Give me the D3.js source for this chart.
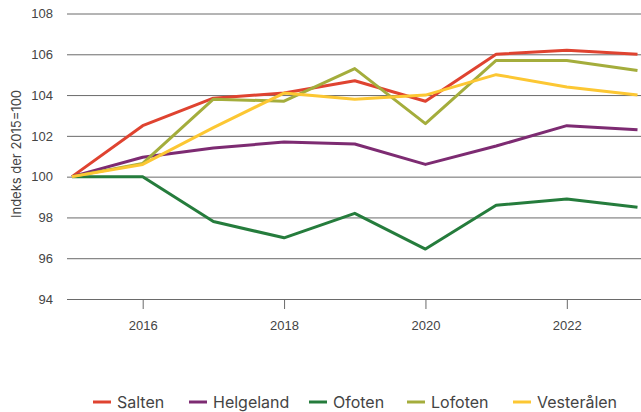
<!DOCTYPE html>
<html>
<head>
<meta charset="utf-8">
<script src="https://cdn.jsdelivr.net/npm/d3@7"></script>
<style>
  body { margin: 0; background: #fff; }
  svg { font-family: Inter, "Noto Sans", sans-serif; }
</style>
</head>
<body>
<svg id="chart"></svg>
<script>
const years = [2015, 2016, 2017, 2018, 2019, 2020, 2021, 2022, 2023];
const yTicks = [94, 96, 98, 100, 102, 104, 106, 108];
const xTicks = [2016, 2018, 2020, 2022];
const names = ['Salten', 'Helgeland', 'Ofoten', 'Lofoten', 'Vesterålen'];
const colors = ['#df4330', '#7d2b72', '#257c3c', '#a4ad3c', '#fcc733'];

const salten     = [100, 102.5, 103.85, 104.1, 104.7, 103.7, 106.0, 106.2, 106.0];
const helgeland  = [100, 100.95, 101.4, 101.7, 101.6, 100.6, 101.5, 102.5, 102.3];
const ofoten     = [100, 100.0, 97.8, 97.0, 98.2, 96.45, 98.6, 98.9, 98.5];
const lofoten    = [100, 100.65, 103.8, 103.7, 105.3, 102.6, 105.7, 105.7, 105.2];
const vesteralen = [100, 100.6, 102.4, 104.1, 103.8, 104.0, 105.0, 104.4, 104.0];
const seriesValues = [salten, helgeland, ofoten, lofoten, vesteralen];

const width = 641, height = 412;
const margin = {top: 13.5, right: 3.5, bottom: 113, left: 72};

const svg = d3.select('#chart')
    .attr('width', width)
    .attr('height', height);

const x = d3.scaleLinear()
    .domain([2015, 2023])
    .range([margin.left, width - margin.right]);

const y = d3.scaleLinear()
    .domain([94, 108])
    .range([height - margin.bottom, margin.top]);

// gridlines + y labels
const yAxis = svg.append('g')
    .attr('transform', `translate(${margin.left - 5},0)`)
    .call(d3.axisLeft(y).tickValues(yTicks).tickSize(-(width - margin.left + 5)).tickFormat(d3.format('d')));
yAxis.select('.domain').remove();
yAxis.selectAll('.tick line').attr('stroke', '#6a6a6a').attr('stroke-width', 1);
yAxis.selectAll('.tick text')
    .attr('x', -14)
    .attr('fill', '#444')
    .style('font-size', '13px');

// x ticks
const xAxis = svg.append('g')
    .attr('transform', `translate(0,${y(94)})`)
    .call(d3.axisBottom(x).tickValues(xTicks).tickSize(10).tickFormat(d3.format('d')));
xAxis.select('.domain').remove();
xAxis.selectAll('.tick line').attr('stroke', '#6a6a6a');
xAxis.selectAll('.tick text')
    .attr('y', 22)
    .attr('fill', '#444')
    .style('font-size', '13px');

// y title
svg.append('text')
    .attr('transform', 'translate(21,154) rotate(-90)')
    .attr('text-anchor', 'middle')
    .attr('fill', '#444')
    .style('font-size', '13px')
    .text('Indeks der 2015=100');

const line = d3.line()
    .x((d, i) => x(years[i]))
    .y(d => y(d));

svg.append('g')
    .selectAll('path')
    .data(seriesValues)
    .enter()
    .append('path')
    .attr('d', line)
    .attr('fill', 'none')
    .attr('stroke', (d, i) => colors[i])
    .attr('stroke-width', 3)
    .attr('stroke-linejoin', 'round');

// legend
const legendX = [93, 189, 309, 407, 513];
const legend = svg.append('g')
    .selectAll('g')
    .data(names)
    .enter()
    .append('g')
    .attr('transform', (d, i) => `translate(${legendX[i]},402)`);

legend.append('line')
    .attr('x1', 0).attr('x2', 18)
    .attr('stroke', (d, i) => colors[i])
    .attr('stroke-width', 3);

legend.append('text')
    .attr('x', 24)
    .attr('dy', '0.35em')
    .attr('fill', '#444')
    .style('font-size', '16px')
    .text(d => d);
</script>
</body>
</html>
